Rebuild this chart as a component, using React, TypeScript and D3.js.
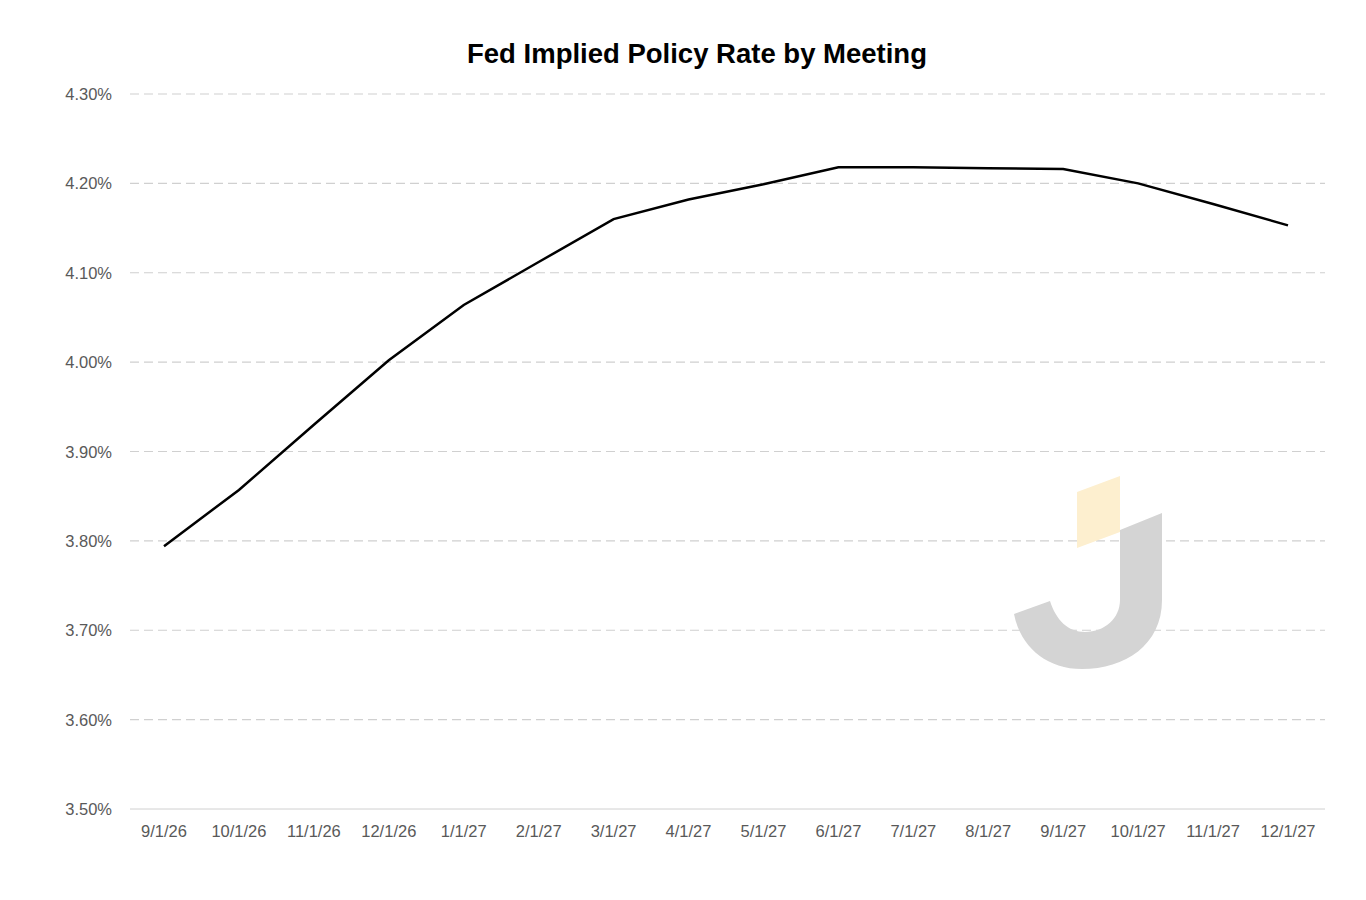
import * as d3 from "d3";

const dates = ["9/1/26","10/1/26","11/1/26","12/1/26","1/1/27","2/1/27","3/1/27","4/1/27","5/1/27","6/1/27","7/1/27","8/1/27","9/1/27","10/1/27","11/1/27","12/1/27"];
const rates = [3.794,3.857,3.93,4.002,4.064,4.112,4.16,4.182,4.199,4.218,4.218,4.217,4.216,4.2,4.177,4.153];
const yTicks = [3.5,3.6,3.7,3.8,3.9,4.0,4.1,4.2,4.3];

const W = 1366, H = 900;
const M = { left: 130, right: 41, top: 94, bottom: 91 };

export default function App() {
  const x = d3.scalePoint<string>().domain(dates).range([164, 1288]);
  const y = d3.scaleLinear().domain([3.5, 4.3]).range([H - M.bottom, M.top]);
  const line = d3.line<number>().x((_, i) => x(dates[i])!).y(d => y(d));
  const font = "Helvetica, Arial, 'Liberation Sans', sans-serif";
  return (
    <svg width={W} height={H} style={{ position: "absolute", left: 0, top: 0, background: "#fff" }} fontFamily={font}>
      <text x={697} y={63} textAnchor="middle" fontSize={27.5} fontWeight="bold" fill="#000">Fed Implied Policy Rate by Meeting</text>
      {yTicks.map(t => (
        <g key={t}>
          {t > 3.5 && <line x1={M.left} x2={W - M.right} y1={y(t)} y2={y(t)} stroke="#d0d0d0" strokeWidth={1.2} strokeDasharray="9,5" />}
          <text x={112} y={y(t) + 6} textAnchor="end" fontSize={16.5} fill="#595959">{t.toFixed(2)}%</text>
        </g>
      ))}
      <line x1={M.left} x2={W - M.right} y1={y(3.5)} y2={y(3.5)} stroke="#d0d0d0" />
      {dates.map(d => (
        <text key={d} x={x(d)} y={837} textAnchor="middle" fontSize={16.5} fill="#595959">{d}</text>
      ))}
      <g>
        <path d="M1077,492 L1120,476 L1120,532 L1077,548 Z" fill="#fdefcf" />
        <path d="M1120,530 L1162,513 L1162,600 C1162,645 1125,669 1082,669 C1045,669 1020,645 1014,614 L1050,601 C1056,620 1068,632 1085,632 C1105,632 1120,618 1120,600 Z" fill="#d4d4d4" />
      </g>
      <path d={line(rates)!} fill="none" stroke="#000" strokeWidth={2.5} />
    </svg>
  );
}
